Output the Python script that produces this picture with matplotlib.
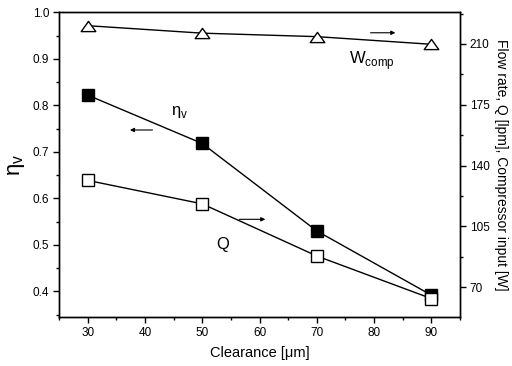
import matplotlib
matplotlib.use("Agg")
import matplotlib.pyplot as plt
from matplotlib.ticker import MultipleLocator
from matplotlib.path import Path

plt.rcParams['font.family'] = ['Liberation Sans', 'DejaVu Sans']
plt.rcParams['mathtext.fontset'] = 'custom'
plt.rcParams['mathtext.rm'] = 'Liberation Sans'

clearance = [30, 50, 70, 90]
eta_v = [0.822, 0.718, 0.530, 0.392]
flow_q = [131.5, 118.0, 88.0, 63.5]
w_comp = [220.5, 216.2, 214.2, 209.8]

x_ticks = [30, 40, 50, 60, 70, 80, 90]
left_ticks = [0.4, 0.5, 0.6, 0.7, 0.8, 0.9, 1.0]
right_ticks = [70, 105, 140, 175, 210]

tri = Path([(-1, -0.7), (1, -0.7), (0, 0.7), (-1, -0.7)],
           [Path.MOVETO, Path.LINETO, Path.LINETO, Path.CLOSEPOLY])

fig = plt.figure(figsize=(5.12, 3.66), dpi=100)
ax = fig.add_axes([59/512, 1-317/366, (460-59)/512, (317-12.3)/366])
ax2 = ax.twinx()

ax.plot(clearance, eta_v, color='black', lw=1.0, marker='s', ms=8,
        mfc='black', mec='black', zorder=3)
ax2.plot(clearance, flow_q, color='black', lw=1.0, marker='s', ms=8,
         mfc='white', mec='black', mew=1.0, zorder=4)
ax2.plot(clearance, w_comp, color='black', lw=1.0, marker=tri, ms=10.5,
         mfc='white', mec='black', mew=1.0, zorder=4)

ax.set_xlim(25, 95)
ax.set_ylim(0.345, 1.0)
ax2.set_ylim(52.9, 228.2)

ax.set_xticks(x_ticks)
ax.set_yticks(left_ticks)
ax.set_yticklabels([f"{v:.1f}" for v in left_ticks])
ax2.set_yticks(right_ticks)
ax.xaxis.set_minor_locator(MultipleLocator(5))
ax.yaxis.set_minor_locator(MultipleLocator(0.05))
ax2.yaxis.set_minor_locator(MultipleLocator(17.5))

for a in (ax, ax2):
    a.tick_params(which='major', direction='out', length=4, width=1,
                  labelsize=8.5, pad=3)
    a.tick_params(which='minor', direction='out', length=2.5, width=1)
    for s in a.spines.values():
        s.set_linewidth(1.0)

ax.set_xlabel('Clearance [μm]', fontsize=10.5, labelpad=5)
ax.set_ylabel(r'η$_{\mathregular{v}}$', fontsize=16, labelpad=4)
ax2.set_ylabel('Flow rate, Q [lpm], Compressor input [W]', fontsize=10,
               rotation=-90, labelpad=13)

# annotations
ax.text(46.1, 0.786, r'η$_{\mathregular{v}}$', fontsize=12, ha='center', va='center')
ax.annotate('', xy=(36.9, 0.747), xytext=(41.8, 0.747),
            arrowprops=dict(arrowstyle='-|>', color='black', lw=0.8,
                            mutation_scale=6))
ax.text(53.6, 0.50, 'Q', fontsize=12, ha='center', va='center')
ax.annotate('', xy=(61.5, 0.555), xytext=(56.0, 0.555),
            arrowprops=dict(arrowstyle='-|>', color='black', lw=0.8,
                            mutation_scale=6))
ax.text(79.6, 0.897, r'W$_{\mathregular{comp}}$', fontsize=12, ha='center', va='center')
ax.annotate('', xy=(84.2, 0.956), xytext=(78.9, 0.956),
            arrowprops=dict(arrowstyle='-|>', color='black', lw=0.8,
                            mutation_scale=6))

fig.savefig('out.png', dpi=100)
